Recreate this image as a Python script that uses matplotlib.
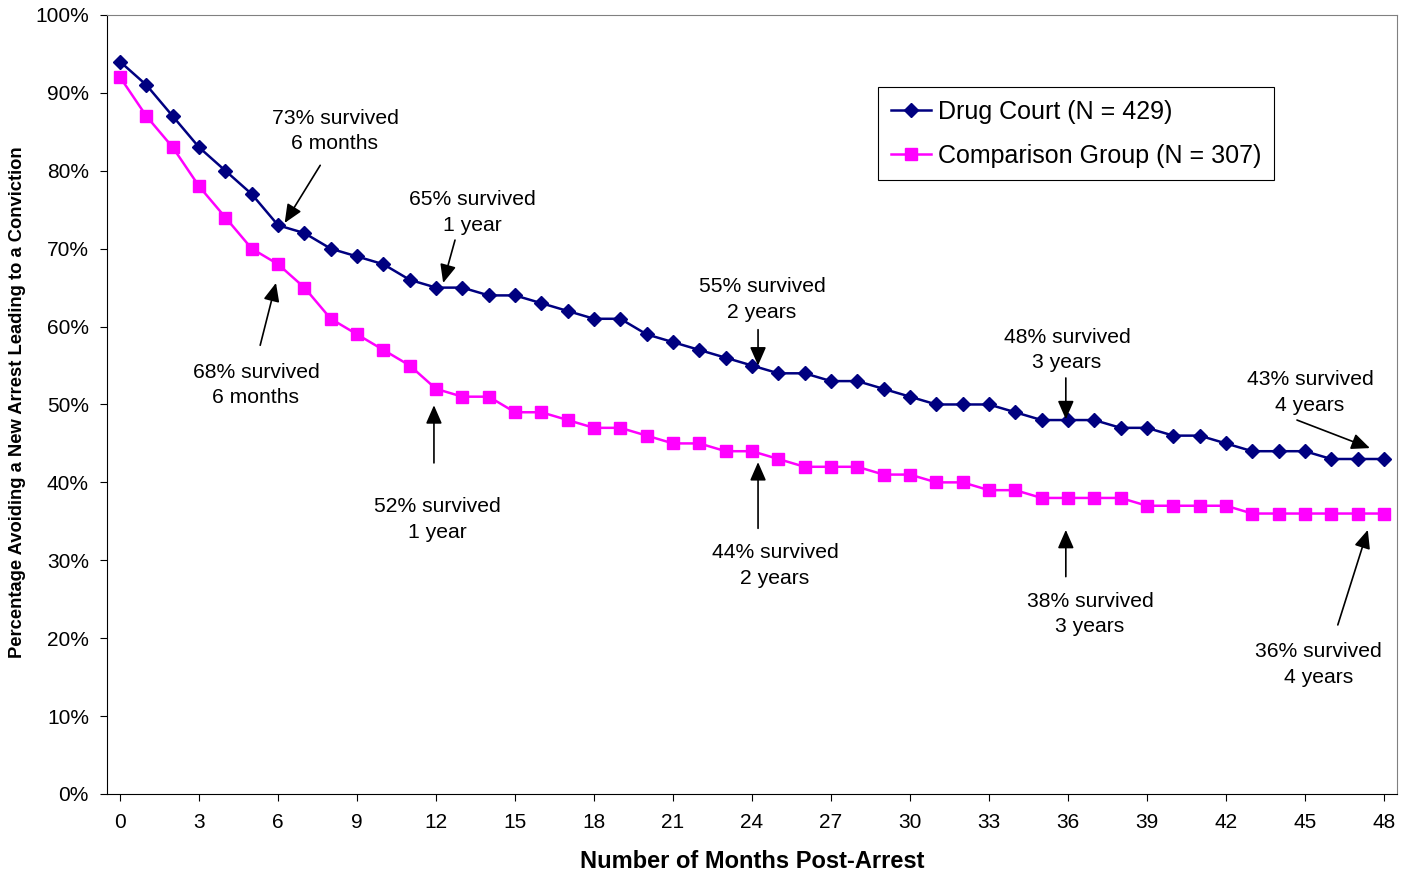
import numpy as np
import matplotlib.pyplot as plt
from matplotlib.ticker import FuncFormatter

plt.rcParams['font.family'] = ['Liberation Sans', 'DejaVu Sans']

months = list(range(0, 49))
drug_court = [94, 91, 87, 83, 80, 77, 73, 72, 70, 69, 68, 66, 65, 65, 64, 64, 63,
              62, 61, 61, 59, 58, 57, 56, 55, 54, 54, 53, 53, 52, 51, 50, 50, 50,
              49, 48, 48, 48, 47, 47, 46, 46, 45, 44, 44, 44, 43, 43, 43]
comparison = [92, 87, 83, 78, 74, 70, 68, 65, 61, 59, 57, 55, 52, 51, 51, 49, 49,
              48, 47, 47, 46, 45, 45, 44, 44, 43, 42, 42, 42, 41, 41, 40, 40, 39,
              39, 38, 38, 38, 38, 37, 37, 37, 37, 36, 36, 36, 36, 36, 36]

# (label, text x, text y, arrow tail, arrow head)
notes = [
    ("73% survived\n6 months", 8.16, 85.1, (7.6, 80.7), (6.25, 73.3)),
    ("65% survived\n1 year", 13.37, 74.6, (12.72, 71.1), (12.27, 65.6)),
    ("55% survived\n2 years", 24.38, 63.5, (24.23, 59.6), (24.23, 55.0)),
    ("48% survived\n3 years", 35.96, 57.0, (35.92, 53.4), (35.92, 48.1)),
    ("43% survived\n4 years", 45.19, 51.5, (44.7, 48.0), (47.47, 44.4)),
    ("68% survived\n6 months", 5.16, 52.5, (5.32, 57.6), (5.92, 65.6)),
    ("52% survived\n1 year", 12.04, 35.2, (11.92, 42.5), (11.92, 49.9)),
    ("44% survived\n2 years", 24.87, 29.3, (24.23, 34.1), (24.23, 42.6)),
    ("38% survived\n3 years", 36.84, 23.1, (35.92, 27.9), (35.92, 33.9)),
    ("36% survived\n4 years", 45.53, 16.6, (46.25, 21.7), (47.39, 33.9)),
]

fig = plt.figure(figsize=(14.11, 8.75), dpi=100)
ax = fig.add_axes([0.0758, 0.0926, 0.9143, 0.8903])

ax.plot(months, drug_court, color='#000080', marker='D', markersize=7,
        linewidth=1.8, label='Drug Court (N = 429)')
ax.plot(months, comparison, color='#FF00FF', marker='s', markersize=8.5,
        linewidth=1.8, label='Comparison Group (N = 307)')

for label, tx, ty, tail, head in notes:
    ax.text(tx, ty, label, ha='center', va='center', fontsize=15.2, linespacing=1.45)
    ax.annotate('', xy=head, xytext=tail,
                arrowprops=dict(arrowstyle='-|>,head_length=0.8,head_width=0.35',
                                mutation_scale=14, color='black', lw=1.2,
                                shrinkA=0, shrinkB=0))

ax.set_xlim(-0.5, 48.5)
ax.set_ylim(0, 100)
ax.set_xticks(range(0, 49, 3))
ax.set_yticks(range(0, 101, 10))
ax.yaxis.set_major_formatter(FuncFormatter(lambda v, p: '%d%%' % v))
ax.tick_params(labelsize=15, length=5, direction='out')
ax.tick_params(axis='y', pad=8)
ax.tick_params(axis='x', pad=9)
ax.spines['top'].set_color('#808080')
ax.spines['right'].set_color('#808080')

ax.set_xlabel('Number of Months Post-Arrest', fontsize=17, fontweight='bold')
ax.xaxis.set_label_coords(0.5, -0.072)
ax.set_ylabel('Percentage Avoiding a New Arrest Leading to a Conviction',
              fontsize=13.2, fontweight='bold')
ax.yaxis.set_label_coords(-0.0625, 0.503)

leg = ax.legend(loc='upper left', bbox_to_anchor=(878 / 1411, 1 - 87 / 875),
                bbox_transform=fig.transFigure, fontsize=18, fancybox=False,
                edgecolor='black', framealpha=1, handlelength=1.6,
                borderaxespad=0, labelspacing=0.8, handletextpad=0.3,
                borderpad=0.5)
leg.get_frame().set_linewidth(0.8)

fig.savefig('out.png', dpi=100)
